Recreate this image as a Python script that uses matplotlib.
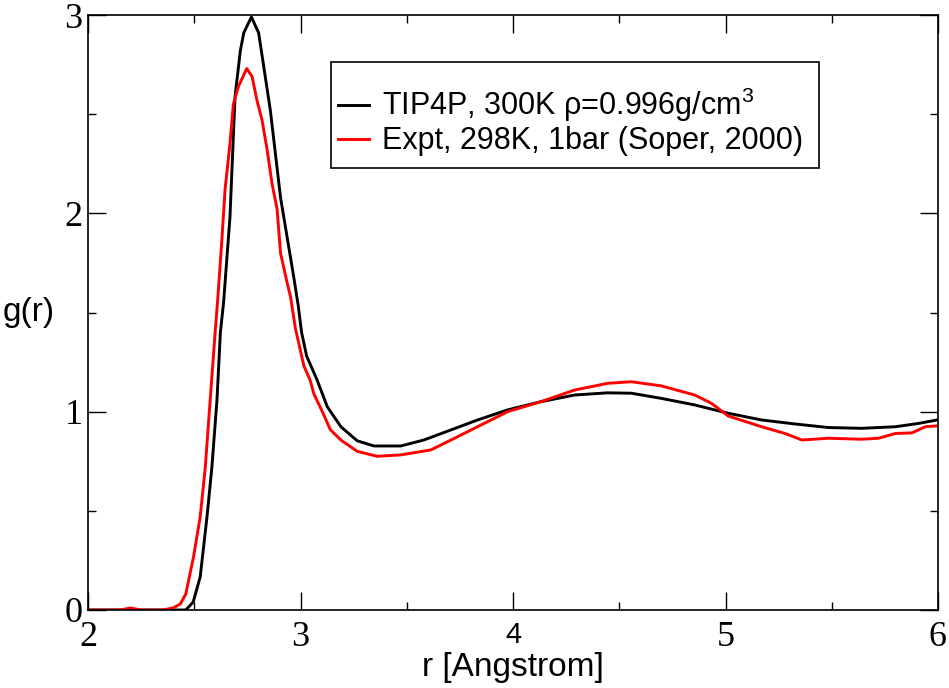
import matplotlib
matplotlib.use("Agg")
import matplotlib.pyplot as plt
from matplotlib.patches import Rectangle

plt.rcParams['font.family'] = ['Liberation Sans', 'DejaVu Sans']
plt.rcParams['mathtext.fontset'] = 'custom'
plt.rcParams['mathtext.rm'] = 'Liberation Sans'
plt.rcParams['mathtext.it'] = 'Liberation Sans'

# TIP4P simulation g(r)
r_sim = [2.0, 2.40, 2.46, 2.495, 2.528, 2.56, 2.583, 2.607, 2.623, 2.638, 2.668, 2.692,
         2.717, 2.733, 2.769, 2.803, 2.827, 2.858, 2.882, 2.906, 2.937, 2.968, 2.99, 3.005,
         3.029, 3.078, 3.126, 3.19, 3.267, 3.346, 3.472, 3.58, 3.708, 3.833, 3.975, 4.13,
         4.29, 4.446, 4.557, 4.698, 4.855, 5.013, 5.17, 5.327, 5.484, 5.64, 5.80, 5.91, 5.995]
g_sim = [0.0, 0.0, 0.0, 0.04, 0.167, 0.47, 0.72, 1.06, 1.40, 1.55, 1.98, 2.59,
         2.82, 2.91, 2.99, 2.91, 2.74, 2.52, 2.30, 2.08, 1.88, 1.68, 1.53, 1.40,
         1.28, 1.16, 1.025, 0.924, 0.853, 0.827, 0.827, 0.857, 0.908, 0.958, 1.009, 1.05,
         1.084, 1.095, 1.093, 1.067, 1.034, 0.992, 0.958, 0.938, 0.920, 0.916, 0.924, 0.941, 0.958]

# Experimental g(r) (Soper, 2000)
r_exp = [2.0, 2.15, 2.2, 2.25, 2.35, 2.40, 2.434, 2.46, 2.497, 2.528, 2.552, 2.575, 2.598,
         2.61, 2.629, 2.645, 2.668, 2.684, 2.708, 2.747, 2.772, 2.795, 2.819, 2.843, 2.866,
         2.89, 2.906, 2.937, 2.953, 2.976, 3.016, 3.045, 3.063, 3.107, 3.14, 3.19, 3.267,
         3.36, 3.472, 3.613, 3.708, 3.833, 3.975, 4.13, 4.29, 4.446, 4.557, 4.698, 4.855,
         4.934, 5.013, 5.17, 5.28, 5.36, 5.484, 5.64, 5.72, 5.80, 5.877, 5.94, 5.99]
g_exp = [0.0, 0.0, 0.01, 0.0, 0.0, 0.01, 0.03, 0.08, 0.27, 0.47, 0.72, 1.06, 1.395,
         1.56, 1.85, 2.12, 2.35, 2.55, 2.64, 2.73, 2.69, 2.57, 2.47, 2.32, 2.15,
         2.02, 1.80, 1.65, 1.58, 1.42, 1.23, 1.16, 1.09, 0.99, 0.91, 0.857, 0.80,
         0.775, 0.782, 0.807, 0.857, 0.924, 1.0, 1.05, 1.109, 1.143, 1.151, 1.13, 1.084,
         1.042, 0.978, 0.924, 0.89, 0.857, 0.866, 0.861, 0.866, 0.89, 0.893, 0.924, 0.928]

labels = ["TIP4P, 300K \u03c1=0.996g/cm$^{3}$", "Expt, 298K, 1bar (Soper, 2000)"]
x_ticks = [2, 3, 4, 5, 6]
y_ticks = [0, 1, 2, 3]

W, H = 949, 688
fig = plt.figure(figsize=(W / 100, H / 100), dpi=100)
ax = fig.add_axes([88 / W, 1 - 610 / H, (938 - 88) / W, (610 - 15) / H])

ax.plot(r_sim, g_sim, color='black', lw=2.1, label=labels[0])
ax.plot(r_exp, g_exp, color='#ff0000', lw=2.1, label=labels[1])

ax.set_xlim(2, 6)
ax.set_ylim(0, 3)
ax.set_xticks(x_ticks)
ax.set_yticks(y_ticks)
ax.set_xticks([2.5, 3.5, 4.5, 5.5], minor=True)
ax.set_yticks([0.5, 1.5, 2.5], minor=True)
ax.set_xticklabels([str(v) for v in x_ticks])
ax.set_yticklabels([str(v) for v in y_ticks])
ax.tick_params(which='both', direction='in', top=True, right=True, width=1.0)
ax.tick_params(which='major', length=13)
ax.tick_params(which='minor', length=6)
ax.tick_params(axis='x', which='major', pad=8)
ax.tick_params(axis='y', which='major', pad=4)
for sp in ax.spines.values():
    sp.set_linewidth(1.2)

for lab in ax.get_xticklabels() + ax.get_yticklabels():
    lab.set_fontfamily('Liberation Serif')
    lab.set_fontsize(26)
xl = ax.get_xticklabels()
xl[2].set_fontfamily('Liberation Sans')
xl[2].set_fontsize(21)

ax.set_xlabel("r [Angstrom]", fontsize=24)
ax.xaxis.set_label_coords(0.5, -(652 - 610) / 595)
ax.set_ylabel("g(r)", fontsize=24, rotation=0, va='center', ha='center')
ax.yaxis.set_label_coords(-(88 - 29) / 850, 0.5)

leg = ax.legend(loc='upper left', bbox_to_anchor=(338 / W, 1 - 86 / H),
                bbox_transform=fig.transFigure, borderaxespad=0, fontsize=22,
                frameon=False, handlelength=1.0,
                handletextpad=0.45, borderpad=0.0, labelspacing=0.07)
fig.patches.append(Rectangle((331 / W, 1 - 168 / H), (819 - 331) / W, (168 - 62) / H,
                             transform=fig.transFigure, fill=False,
                             edgecolor='black', linewidth=1.2, zorder=5))

fig.savefig("out.png", dpi=100)
